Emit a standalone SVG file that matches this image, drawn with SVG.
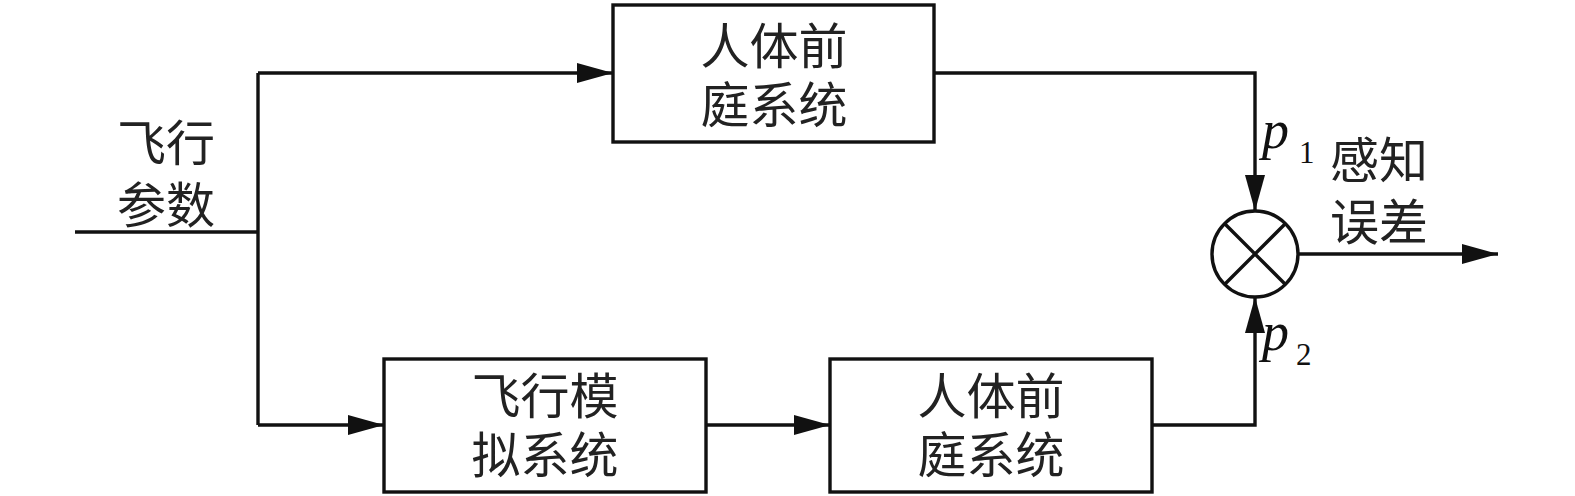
<svg xmlns="http://www.w3.org/2000/svg" width="1575" height="496" viewBox="0 0 1575 496">
<style>
.box{fill:#fff;stroke:#111;stroke-width:3.4}
.ln{fill:none;stroke:#111;stroke-width:3.4}
.cn{font-family:"Noto Sans CJK SC","Noto Sans CJK JP",sans-serif;font-size:49px;fill:#222;text-anchor:middle}
.pv{font-family:"Liberation Serif",serif;font-style:italic;font-size:54px;fill:#111}
.sub{font-family:"Liberation Serif",serif;font-size:31px;fill:#111}
</style>
<defs>
<marker id="ah" markerUnits="userSpaceOnUse" markerWidth="36" markerHeight="20" refX="36" refY="10" orient="auto">
<path d="M0,0 L36,10 L0,20 z" fill="#111"/>
</marker>
</defs>
<rect width="1575" height="496" fill="#fff"/>
<g id="connectors">
<path class="ln" d="M75,232 H258"/>
<path class="ln" d="M258,73 V425"/>
<path class="ln" d="M258,73 H613" marker-end="url(#ah)"/>
<path class="ln" d="M258,425 H384" marker-end="url(#ah)"/>
<path class="ln" d="M706,425 H830" marker-end="url(#ah)"/>
<path class="ln" d="M934,73 H1255 V211" marker-end="url(#ah)"/>
<path class="ln" d="M1152,425 H1255 V297" marker-end="url(#ah)"/>
<path class="ln" d="M1298,254 H1498" marker-end="url(#ah)"/>
</g>
<g id="input-label">
<text class="cn" x="166" y="161">飞行<tspan x="166" y="223">参数</tspan></text>
</g>
<g id="vestibular-top">
<rect class="box" x="613" y="5" width="321" height="137"/>
<text class="cn" x="774" y="64">人体前<tspan x="774" y="123">庭系统</tspan></text>
</g>
<g id="flight-sim">
<rect class="box" x="384" y="359" width="322" height="133"/>
<text class="cn" x="545" y="414">飞行模<tspan x="545" y="473">拟系统</tspan></text>
</g>
<g id="vestibular-bottom">
<rect class="box" x="830" y="359" width="322" height="133"/>
<text class="cn" x="991" y="414">人体前<tspan x="991" y="473">庭系统</tspan></text>
</g>
<g id="comparator">
<circle class="box" cx="1255" cy="254" r="43"/>
<path class="ln" d="M1225,224 L1285,284 M1285,224 L1225,284"/>
</g>
<g id="labels">
<text class="pv" x="1262" y="148">p</text>
<text class="sub" x="1299" y="163">1</text>
<text class="pv" x="1262" y="350">p</text>
<text class="sub" x="1296" y="365">2</text>
<text class="cn" x="1379" y="178">感知<tspan x="1379" y="240">误差</tspan></text>
</g>
</svg>
